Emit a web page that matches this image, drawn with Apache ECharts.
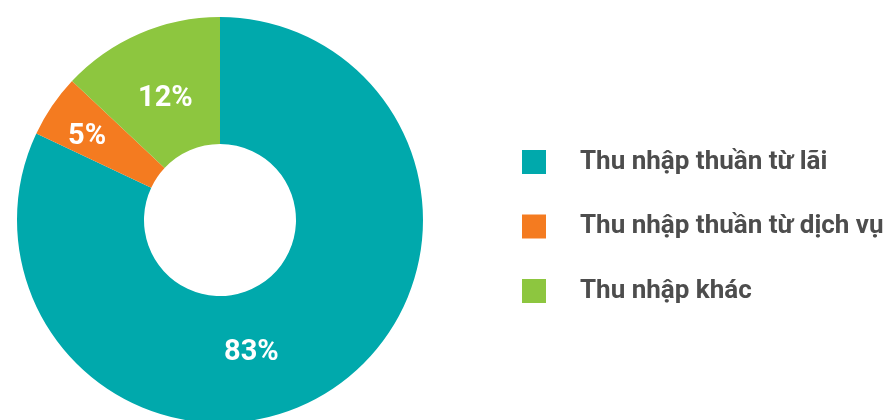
<!DOCTYPE html>
<html><head><meta charset="utf-8">
<script src="https://cdn.jsdelivr.net/npm/echarts@6/dist/echarts.min.js"></script>
<style>html,body{margin:0;padding:0;background:#fff}#c{width:894px;height:420px}</style>
</head><body><div id="c"></div>
<script>
const categories = ["Thu nhập thuần từ lãi", "Thu nhập thuần từ dịch vụ", "Thu nhập khác"];
const values = [82, 5, 13];
const valueLabels = ["83%", "5%", "12%"];
const colors = ["#00A9AC", "#F47B20", "#8DC63F"];
const labelOffsets = [[-45, 12], [-15, -3], [2, 10]];

const chart = echarts.init(document.getElementById('c'), null, {renderer: 'canvas'});
chart.setOption({
  animation: false,
  legend: {
    orient: 'vertical', left: 517, top: 144,
    itemWidth: 24, itemHeight: 24, itemGap: 38.5, icon: 'rect',
    textStyle: {fontFamily: 'Roboto', fontWeight: 'bold', fontSize: 26, lineHeight: 24, color: '#4d4d4d', padding: [0, 0, 0, 29]},
    data: categories
  },
  series: [{
    type: 'pie', center: [220, 220], radius: [76, 203], startAngle: 90, clockwise: true,
    silent: true,
    label: {show: true, position: 'inside', color: '#fff', fontFamily: 'Roboto', fontWeight: 'bold', fontSize: 29},
    labelLine: {show: false},
    itemStyle: {borderWidth: 0},
    data: categories.map((n, i) => ({name: n, value: values[i], itemStyle: {color: colors[i]},
      label: {offset: labelOffsets[i], formatter: valueLabels[i]}}))
  }]
});
</script></body></html>
